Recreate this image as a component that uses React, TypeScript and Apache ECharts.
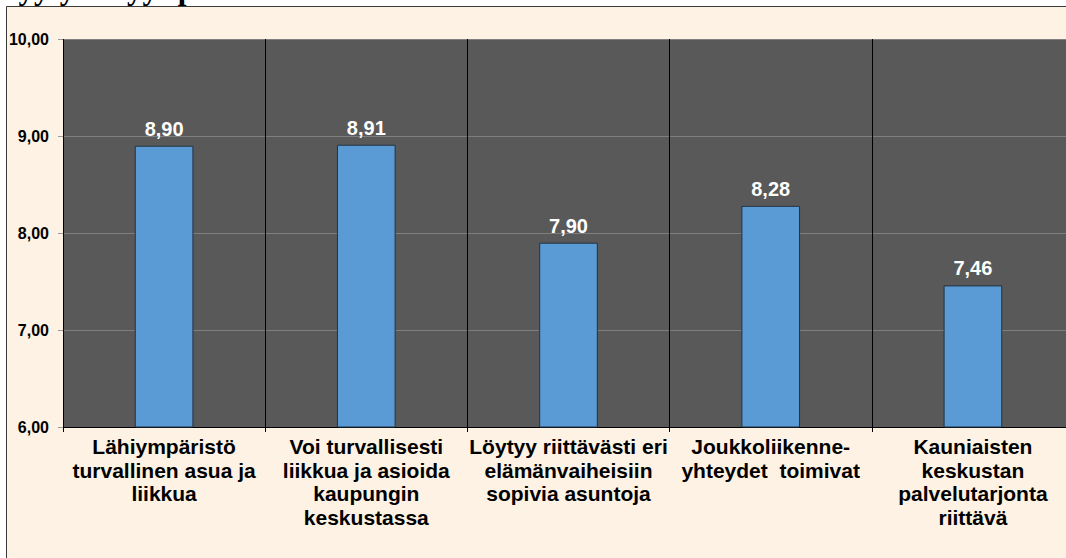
import React, { useEffect, useRef } from "react";
import * as echarts from "echarts";

const categories = [
  "Lähiympäristö\nturvallinen asua ja\nliikkua",
  "Voi turvallisesti\nliikkua ja asioida\nkaupungin\nkeskustassa",
  "Löytyy riittävästi eri\nelämänvaiheisiin\nsopivia asuntoja",
  "Joukkoliikenne-\nyhteydet  toimivat",
  "Kauniaisten\nkeskustan\npalvelutarjonta\nriittävä",
];
const values = [8.9, 8.91, 7.9, 8.28, 7.46];
const titleText = "Tyytyväisyys palveluihin";
const yMin = 6;
const yMax = 10;
const yStep = 1;

const fmt = (v: number) => v.toFixed(2).replace(".", ",");
const SANS = 'Arial, "Liberation Sans", Helvetica, sans-serif';

export default function App() {
  const ref = useRef<HTMLDivElement>(null);
  useEffect(() => {
    if (!ref.current) return;
    const chart = echarts.init(ref.current, null, { renderer: "svg" });
    chart.setOption({
      animation: false,
      backgroundColor: "#ffffff",
      graphic: [
        {
          type: "rect",
          z: -10,
          silent: true,
          shape: { x: 6, y: 6, width: 1100, height: 600 },
          style: { fill: "#FDF2E4", lineWidth: 0 },
        },
        {
          type: "polyline",
          z: -9,
          silent: true,
          shape: { points: [[6.5, 600], [6.5, 6.5], [1100, 6.5]] },
          style: { stroke: "#3a3a3a", lineWidth: 1, fill: null },
        },
        {
          type: "text",
          x: 0,
          y: -12,
          silent: true,
          style: {
            text: titleText,
            font: 'bold 31px "Liberation Serif", "Times New Roman", serif',
            fill: "#000",
            verticalAlign: "middle",
          },
        },
      ],
      grid: {
        left: 63,
        top: 39,
        right: -8,
        bottom: 131,
        show: true,
        backgroundColor: "#595959",
        borderWidth: 0,
        containLabel: false,
        outerBoundsMode: "none",
      },
      xAxis: {
        type: "category",
        data: categories,
        axisLine: { show: true, lineStyle: { color: "#000", width: 1 } },
        axisTick: { show: true, length: 5, lineStyle: { color: "#000" } },
        splitLine: { show: true, lineStyle: { color: "#000", width: 1 } },
        axisLabel: {
          interval: 0,
          margin: 8,
          color: "#000",
          fontFamily: SANS,
          fontWeight: "bold",
          fontSize: 21,
          lineHeight: 23.5,
          align: "center",
        },
      },
      yAxis: {
        type: "value",
        min: yMin,
        max: yMax,
        interval: yStep,
        axisLine: { show: false },
        axisTick: { show: true, length: 5, lineStyle: { color: "#9a9a9a" } },
        splitLine: { show: true, lineStyle: { color: "#7f7f7f", width: 1 } },
        axisLabel: {
          margin: 14,
          color: "#000",
          fontFamily: SANS,
          fontWeight: "bold",
          fontSize: 16,
          formatter: (v: number) => fmt(v),
        },
      },
      series: [
        {
          type: "bar",
          data: values,
          barWidth: "29%",
          itemStyle: { color: "#5B9BD5", borderColor: "#233241", borderWidth: 1 },
          label: {
            show: true,
            position: "top",
            distance: 7,
            color: "#fff",
            fontFamily: SANS,
            fontWeight: "bold",
            fontSize: 20,
            formatter: (p: any) => fmt(p.value),
          },
        },
      ],
    });
    return () => chart.dispose();
  }, []);
  return (
    <div
      ref={ref}
      style={{ position: "fixed", left: 0, top: 0, width: 1066, height: 558 }}
    />
  );
}
